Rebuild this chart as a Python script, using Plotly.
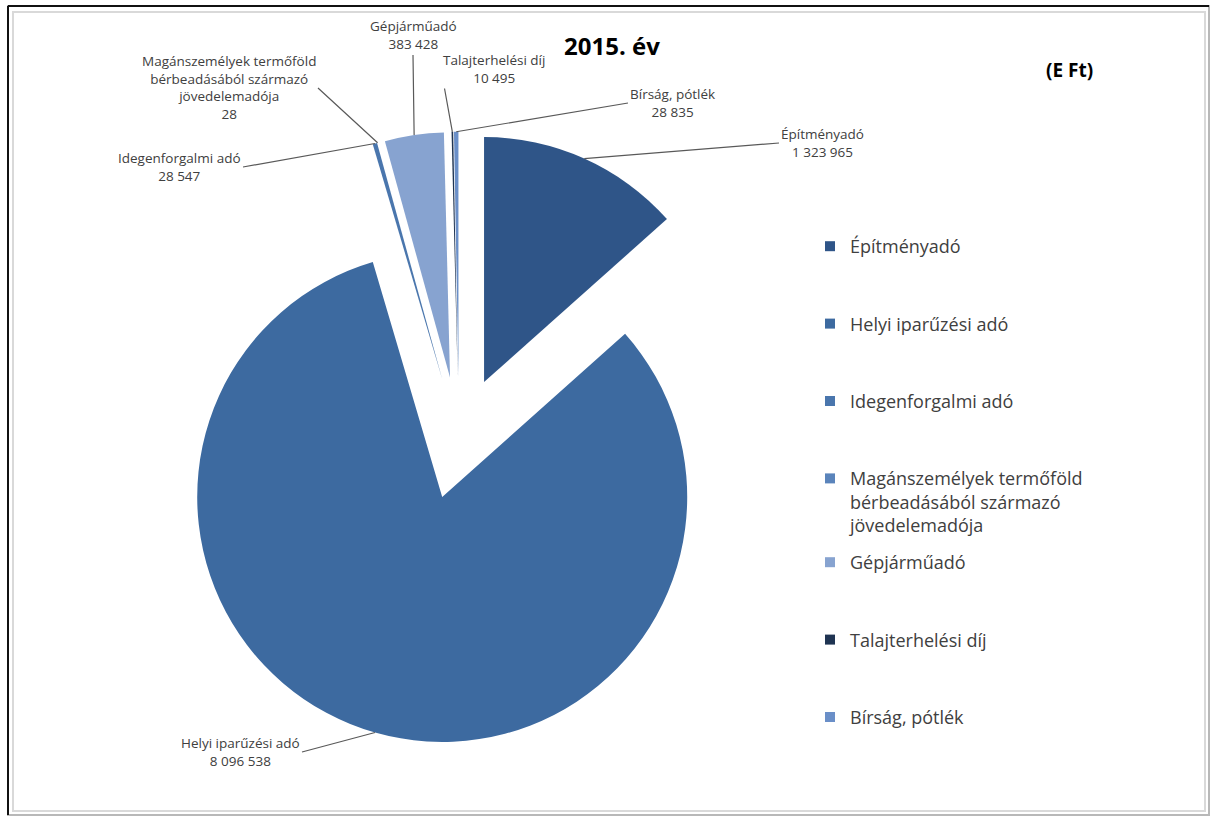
import math
import plotly.graph_objects as go

# ---------------- data ----------------
categories = ["Építményadó", "Helyi iparűzési adó", "Idegenforgalmi adó",
              "Magánszemélyek termőföld bérbeadásából származó jövedelemadója",
              "Gépjárműadó", "Talajterhelési díj", "Bírság, pótlék"]
values = [1323965, 8096538, 28547, 28, 383428, 10495, 28835]
label_lines = ["Építményadó", "Helyi iparűzési adó", "Idegenforgalmi adó",
               "Magánszemélyek termőföld<br>bérbeadásából származó<br>jövedelemadója",
               "Gépjárműadó", "Talajterhelési díj", "Bírság, pótlék"]
colors = ["#2f5588", "#3d6aa0", "#4a76ad", "#5a84bb", "#87a3d0", "#1f3452", "#6a8fc8"]
title_text = "2015. év"
unit_text = "(E Ft)"

# ---------------- layout constants ----------------
W, H = 1213, 821
cx, cy, r = 459, 438, 245
pull = 0.25
half = r * (1 + pull)

# label tail positions (px) and anchors
tails = [(779, 143, "left", "middle"),
         (302, 752, "right", "middle"),
         (243, 167, "right", "middle"),
         (318, 88, "right", "middle"),
         (413, 55, "center", "bottom"),
         (441, 69, "left", "middle"),
         (628, 103, "left", "middle")]


def fmt(v):
    return f"{v:,}".replace(",", " ")


fig = go.Figure()
fig.add_trace(go.Pie(
    labels=categories, values=values, sort=False, direction="clockwise", rotation=0,
    pull=[pull] * len(values),
    marker=dict(colors=colors, line=dict(width=0)),
    textinfo="none", showlegend=False,
    domain=dict(x=[(cx - half) / W, (cx + half) / W], y=[1 - (cy + half) / H, 1 - (cy - half) / H]),
))

# legend entries (two stacked legends to mimic spacing)
for i, (name, c) in enumerate(zip(label_lines, colors)):
    fig.add_trace(go.Scatter(
        x=[None], y=[None], mode="markers", name=name,
        marker=dict(symbol="square", size=10, color=c),
        legendgroup=f"g{i}", legend="legend" if i < 4 else "legend2",
        hoverinfo="skip"))

# data labels with leader lines
total = sum(values)
cum = 0
annotations = []
for i, v in enumerate(values):
    mid = (cum + v / 2) / total * 2 * math.pi
    cum += v
    tipx = cx + half * math.sin(mid)
    tipy = cy - half * math.cos(mid)
    tx, ty, xa, ya = tails[i]
    annotations.append(dict(
        x=tipx / W, y=1 - tipy / H, xref="paper", yref="paper",
        ax=tx - tipx, ay=ty - tipy, axref="pixel", ayref="pixel",
        text=f"{label_lines[i]}<br>{fmt(v)}", showarrow=True, arrowhead=0,
        arrowwidth=1.2, arrowcolor="#595959", standoff=0, startstandoff=0,
        xanchor=xa, yanchor=ya, align="center",
        font=dict(family="Open Sans, Lato, sans-serif", size=13.5, color="#404040")))

annotations.append(dict(x=612 / W, y=1 - 45 / H, xref="paper", yref="paper", showarrow=False,
                        xanchor="center", yanchor="middle",
                        text=f"<b>{title_text}</b>",
                        font=dict(family="Open Sans, Lato, sans-serif", size=24, color="#000000")))
annotations.append(dict(x=1069 / W, y=1 - 70 / H, xref="paper", yref="paper", showarrow=False,
                        xanchor="center", yanchor="middle",
                        text=f"<b>{unit_text}</b>",
                        font=dict(family="Open Sans, Lato, sans-serif", size=19, color="#000000")))

shapes = [
    dict(type="rect", xref="paper", yref="paper", x0=13 / W, x1=1205 / W, y0=1 - 811 / H, y1=1 - 12 / H,
         line=dict(color="#d9d9d9", width=2)),
    dict(type="rect", xref="paper", yref="paper", x0=8 / W, x1=1209 / W, y0=1 - 815 / H, y1=1 - 6 / H,
         line=dict(color="#b8b8b8", width=2)),
    dict(type="line", xref="paper", yref="paper", x0=8 / W, x1=8 / W, y0=1 - 815 / H, y1=1 - 6 / H,
         line=dict(color="#111111", width=2)),
    dict(type="line", xref="paper", yref="paper", x0=8 / W, x1=1209 / W, y0=1 - 6 / H, y1=1 - 6 / H,
         line=dict(color="#111111", width=2)),
]

legend_font = dict(family="Open Sans, Lato, sans-serif", size=18, color="#404040")
fig.update_layout(
    width=W, height=H, margin=dict(l=0, r=0, t=0, b=0),
    paper_bgcolor="white", plot_bgcolor="white",
    xaxis=dict(visible=False), yaxis=dict(visible=False),
    annotations=annotations, shapes=shapes,
    legend=dict(x=810 / W, y=1 - 228 / H, xanchor="left", yanchor="top", tracegroupgap=51,
                font=legend_font, valign="top", bgcolor="rgba(0,0,0,0)", itemclick=False),
    legend2=dict(x=810 / W, y=1 - 544 / H, xanchor="left", yanchor="top", tracegroupgap=51,
                 font=legend_font, valign="top", bgcolor="rgba(0,0,0,0)", itemclick=False),
)

fig.write_html("out.html", config={"displayModeBar": False},
               post_script="document.body.style.margin='0';document.body.style.overflow='hidden';")
